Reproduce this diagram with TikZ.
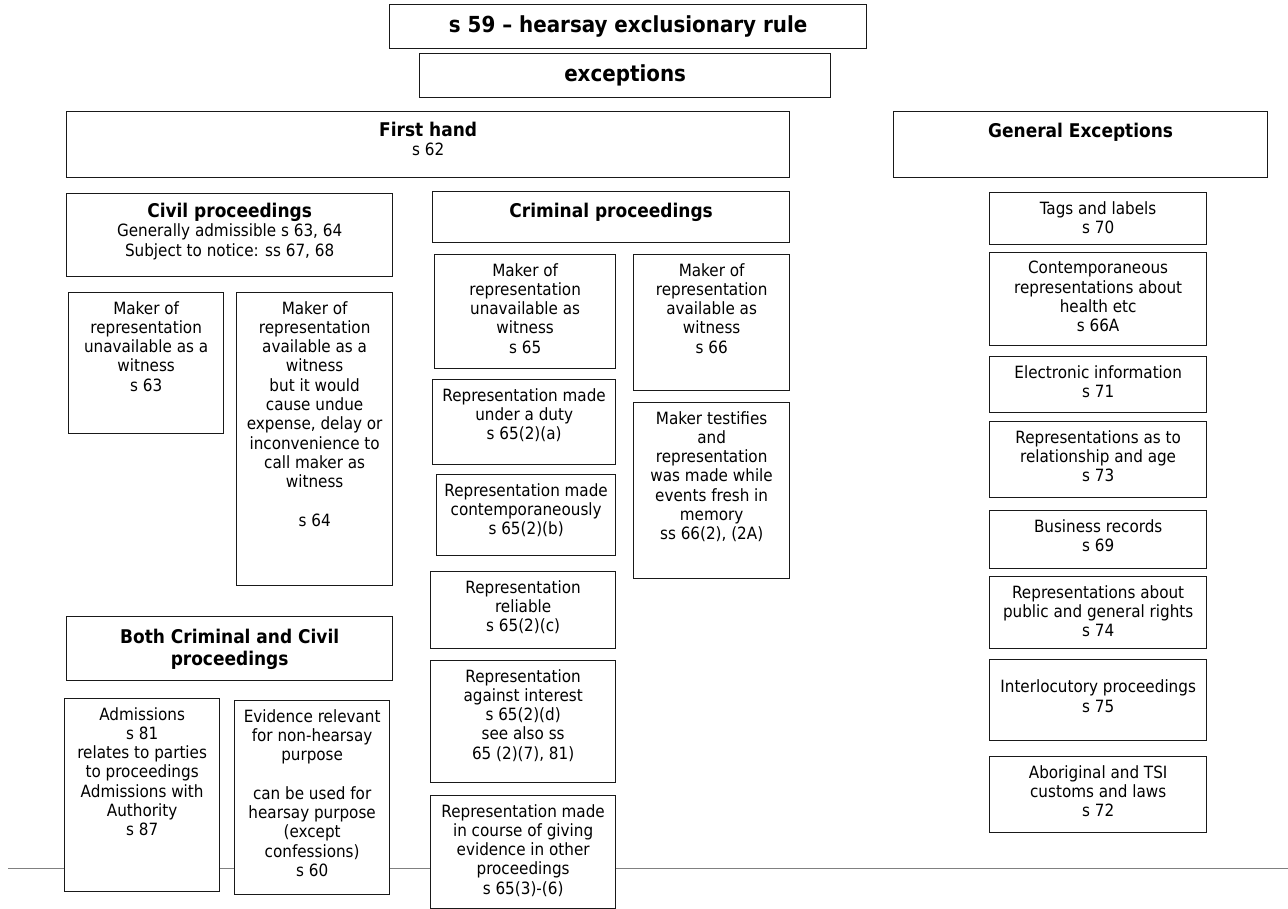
\documentclass[tikz,border=0pt]{standalone}
\usepackage{fontspec}
\setmainfont{DejaVu Sans Condensed}
\usetikzlibrary{positioning}

\newcommand{\bodyfont}{\fontsize{16.9}{19.3}\selectfont}
\newcommand{\headfont}{\fontsize{18.9}{22}\selectfont\bfseries}
\newcommand{\titlefont}{\fontsize{22.1}{25}\selectfont\bfseries}

\begin{document}
\begin{tikzpicture}[x=1pt, y=-1pt,
    box/.style={draw=black!90, line width=1.3pt, fill=white, anchor=north west, inner sep=0pt},
    txt/.style={align=center, font=\bodyfont, inner sep=0pt},
    head/.style={txt, font=\headfont}
]

    % Page
    \useasboundingbox[fill=white] (0,0) rectangle (1288,908);
    \coordinate (rulel) at (8,868);
    \coordinate (ruler) at (1288,868);
    \draw[black!50, line width=0.9pt] (rulel) -- (ruler);

    % Top
    \node[box, minimum width=477pt, minimum height=44pt] (rule) at (389,4) {};
    \node[txt, font=\titlefont] at (rule.center) {s 59 -- hearsay exclusionary rule};
    \node[box, minimum width=411pt, minimum height=44pt] (exc) at (419,53) {};
    \node[txt, font=\titlefont] at (exc.center) {exceptions};

    % First hand
    \node[box, minimum width=723pt, minimum height=66pt] (first) at (66,111) {};
    \node[txt, below=11pt of first.north] {{\headfont First hand}\\s 62};

    % Civil proceedings
    \node[box, minimum width=326pt, minimum height=83pt] (civ) at (66,193) {};
    \node[txt, below=10pt of civ.north] {{\headfont Civil proceedings}\\Generally admissible s 63, 64\\Subject to notice: ss 67, 68};
    \node[box, minimum width=155pt, minimum height=141pt] (civa) at (68,292) {};
    \node[txt, below=9pt of civa.north] {Maker of\\representation\\unavailable as a\\witness\\s 63};
    \node[box, minimum width=156pt, minimum height=293pt] (civb) at (236,292) {};
    \node[txt, below=9pt of civb.north] {Maker of\\representation\\available as a\\witness\\but it would\\cause undue\\expense, delay or\\inconvenience to\\call maker as\\witness\\~\\s 64};

    % Both
    \node[box, minimum width=326pt, minimum height=64pt] (both) at (66,616) {};
    \node[head, yshift=-1pt] at (both.center) {Both Criminal and Civil\\proceedings};
    \node[box, minimum width=155pt, minimum height=193pt] (adm) at (64,698) {};
    \node[txt, below=9pt of adm.north] {Admissions\\s 81\\relates to parties\\to proceedings\\Admissions with\\Authority\\s 87};
    \node[box, minimum width=155pt, minimum height=194pt] (evid) at (234,700) {};
    \node[txt, below=9pt of evid.north] {Evidence relevant\\for non-hearsay\\purpose\\~\\can be used for\\hearsay purpose\\(except\\confessions)\\s 60};

    % Criminal proceedings
    \node[box, minimum width=357pt, minimum height=51pt] (crim) at (432,191) {};
    \node[head, below=12pt of crim.north] {Criminal proceedings};
    \node[box, minimum width=181pt, minimum height=114pt] (unav) at (434,254) {};
    \node[txt, below=9pt of unav.north] {Maker of\\representation\\unavailable as\\witness\\s 65};
    \node[box, minimum width=183pt, minimum height=85pt] (duty) at (432,379) {};
    \node[txt, below=9pt of duty.north] {Representation made\\under a duty\\s 65(2)(a)};
    \node[box, minimum width=179pt, minimum height=81pt] (contemp) at (436,474) {};
    \node[txt, below=9pt of contemp.north] {Representation made\\contemporaneously\\s 65(2)(b)};
    \node[box, minimum width=185pt, minimum height=77pt] (reliable) at (430,571) {};
    \node[txt, below=9pt of reliable.north] {Representation\\reliable\\s 65(2)(c)};
    \node[box, minimum width=185pt, minimum height=122pt] (interest) at (430,660) {};
    \node[txt, below=9pt of interest.north] {Representation\\against interest\\s 65(2)(d)\\see also ss\\65 (2)(7), 81)};
    \node[box, minimum width=185pt, minimum height=113pt] (otherproc) at (430,795) {};
    \node[txt, below=9pt of otherproc.north] {Representation made\\in course of giving\\evidence in other\\proceedings\\s 65(3)-(6)};
    \node[box, minimum width=156pt, minimum height=136pt] (avail) at (633,254) {};
    \node[txt, below=9pt of avail.north] {Maker of\\representation\\available as\\witness\\s 66};
    \node[box, minimum width=156pt, minimum height=176pt] (fresh) at (633,402) {};
    \node[txt, below=9pt of fresh.north] {Maker testifies\\and\\representation\\was made while\\events fresh in\\memory\\ss 66(2), (2A)};

    % General exceptions
    \node[box, minimum width=374pt, minimum height=66pt] (gen) at (893,111) {};
    \node[head, below=12pt of gen.north] {General Exceptions};
    \node[box, minimum width=217pt, minimum height=52pt] (tags) at (989,192) {};
    \node[txt, below=9pt of tags.north] {Tags and labels\\s 70};
    \node[box, minimum width=217pt, minimum height=93pt] (health) at (989,252) {};
    \node[txt, below=9pt of health.north] {Contemporaneous\\representations about\\health etc\\s 66A};
    \node[box, minimum width=217pt, minimum height=56pt] (elec) at (989,356) {};
    \node[txt, below=9pt of elec.north] {Electronic information\\s 71};
    \node[box, minimum width=217pt, minimum height=76pt] (age) at (989,421) {};
    \node[txt, below=9pt of age.north] {Representations as to\\relationship and age\\s 73};
    \node[box, minimum width=217pt, minimum height=58pt] (busi) at (989,510) {};
    \node[txt, below=9pt of busi.north] {Business records\\s 69};
    \node[box, minimum width=217pt, minimum height=72pt] (rights) at (989,576) {};
    \node[txt, below=9pt of rights.north] {Representations about\\public and general rights\\s 74};
    \node[box, minimum width=217pt, minimum height=81pt] (inter) at (989,659) {};
    \node[txt, yshift=4pt] at (inter.center) {Interlocutory proceedings\\s 75};
    \node[box, minimum width=217pt, minimum height=76pt] (abor) at (989,756) {};
    \node[txt, below=9pt of abor.north] {Aboriginal and TSI\\customs and laws\\s 72};

\end{tikzpicture}
\end{document}
